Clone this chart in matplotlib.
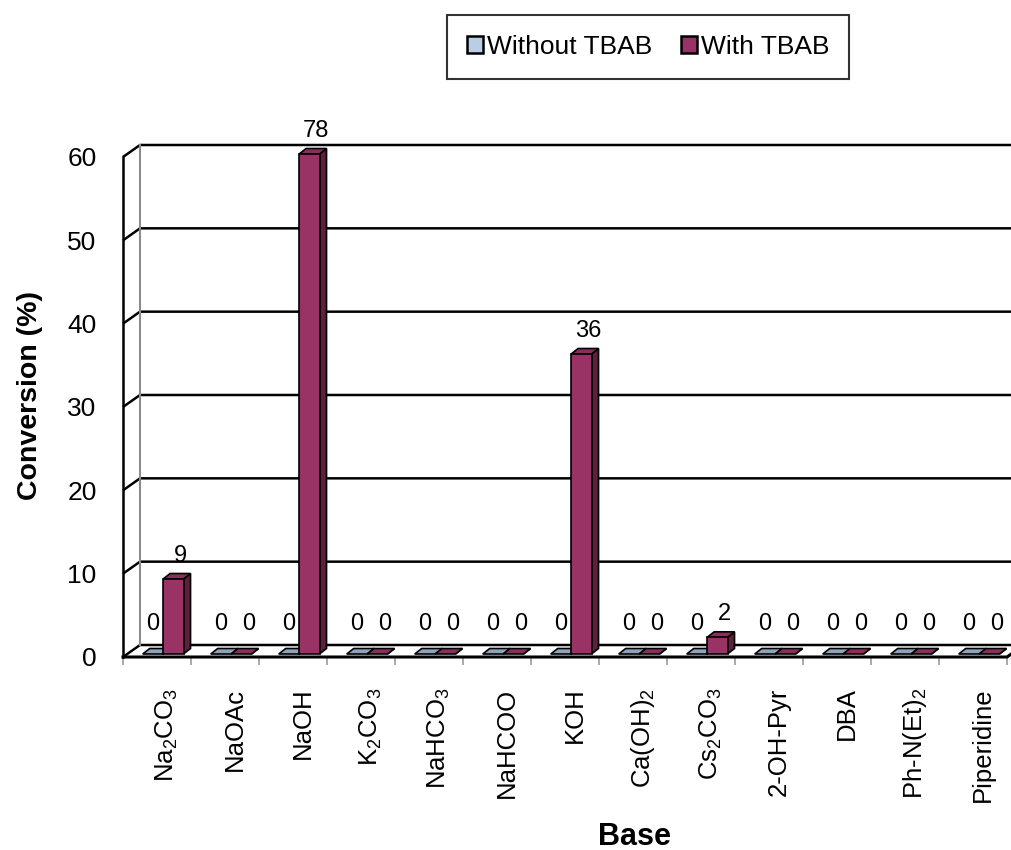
import matplotlib.pyplot as plt
from matplotlib.patches import Polygon, Patch

plt.rcParams['font.family'] = ['Liberation Sans', 'DejaVu Sans']
plt.rcParams['mathtext.default'] = 'regular'

# datos
bases = ['Na$_2$CO$_3$', 'NaOAc', 'NaOH', 'K$_2$CO$_3$', 'NaHCO$_3$', 'NaHCOO', 'KOH',
         'Ca(OH)$_2$', 'Cs$_2$CO$_3$', '2-OH-Pyr', 'DBA', 'Ph-N(Et)$_2$', 'Piperidine']
without_tbab = [0, 0, 0, 0, 0, 0, 0, 0, 0, 0, 0, 0, 0]
with_tbab = [9, 0, 78, 0, 0, 0, 36, 0, 2, 0, 0, 0, 0]
series_names = ['Without TBAB', 'With TBAB']
yticks = [0, 10, 20, 30, 40, 50, 60]
ymax = 60

n = len(bases)
# colores: frente, arriba, lado
colores = [('#b9cde5', '#8ea4bd', '#6f8299'),
           ('#993366', '#8a2e5c', '#5e1f40')]

fig = plt.figure(figsize=(10.11, 8.5), dpi=100)
ax = fig.add_axes([123/1011, 1 - 657/850, 884/1011, 500/850])
ax.set_xlim(0, n)
ax.set_ylim(0, ymax)
for s in ax.spines.values():
    s.set_visible(False)

# profundidad de la pared y de las barras (pseudo 3d)
dxw, dyw = 0.25, 1.44
ddx, ddy = 0.103, 0.66
y0 = 0.36
w = 0.3

# pared del fondo, lineas de grilla
for v in yticks:
    ax.plot([0, dxw, n + dxw], [v, v + dyw, v + dyw], color='black', lw=1.8,
            clip_on=False, zorder=1, solid_capstyle='butt')
ax.plot([dxw, dxw], [dyw, ymax + dyw], color='#8c8c8c', lw=1.5, clip_on=False, zorder=1)
ax.plot([0, 0], [0, ymax], color='black', lw=1.8, clip_on=False, zorder=2)
ax.plot([0, n, n + dxw], [0, 0, dyw], color='black', lw=2.2, clip_on=False, zorder=2)


def barra(x0, h, cols):
    cara, arriba, lado = cols
    x1 = x0 + w
    yt = y0 + h
    ax.add_patch(Polygon([(x1, y0), (x1 + ddx, y0 + ddy), (x1 + ddx, yt + ddy), (x1, yt)],
                         closed=True, facecolor=lado, edgecolor='black', lw=1.2,
                         zorder=3, clip_on=False))
    ax.add_patch(Polygon([(x0, yt), (x1, yt), (x1 + ddx, yt + ddy), (x0 + ddx, yt + ddy)],
                         closed=True, facecolor=arriba, edgecolor='black', lw=1.2,
                         zorder=3, clip_on=False))
    if h > 0:
        ax.add_patch(Polygon([(x0, y0), (x1, y0), (x1, yt), (x0, yt)],
                             closed=True, facecolor=cara, edgecolor='black', lw=1.2,
                             zorder=4, clip_on=False))


for s, serie in enumerate([without_tbab, with_tbab]):
    for i, v in enumerate(serie):
        h = min(v, ymax)
        x0 = i + 0.29 + s * w
        barra(x0, h, colores[s])
        extra = 0.8 if v > 0 else 1.6
        xl = x0 + w / 2 + (ddx if s == 1 else 0)
        ax.text(xl, y0 + h + ddy + extra, str(v), ha='center', va='bottom',
                fontsize=17, clip_on=False, zorder=5)

# ejes
ax.set_xticks(range(n + 1))
ax.set_xticklabels([''] * (n + 1))
ax.tick_params(axis='x', which='major', length=6, width=1.2, color='#999999')
ax.set_xticks([i + 0.64 for i in range(n)], minor=True)
ax.set_xticklabels(bases, minor=True, rotation=90, va='top', ha='center')
ax.tick_params(axis='x', which='minor', length=0, pad=22, labelsize=18.5)

ax.set_yticks(yticks)
ax.tick_params(axis='y', length=0, pad=19, labelsize=19)

fig.text(30/1011, 1 - 395/850, 'Conversion (%)', rotation=90, ha='center', va='center',
         fontsize=20.5, fontweight='bold')
fig.text(634/1011, 1 - 837/850, 'Base', ha='center', va='center',
         fontsize=22, fontweight='bold')

handles = [Patch(facecolor=colores[k][0], edgecolor='black', lw=1.8) for k in range(2)]
leg = fig.legend(handles, series_names, loc='center', bbox_to_anchor=(648/1011, 1 - 47/850),
                 ncol=2, fontsize=19, frameon=True, fancybox=False, edgecolor='black',
                 handlelength=0.6, handleheight=0.6, handletextpad=0.15, columnspacing=1.1,
                 borderpad=0.75, borderaxespad=0)
leg.get_frame().set_linewidth(1.5)

plt.savefig('out.png', dpi=100)
